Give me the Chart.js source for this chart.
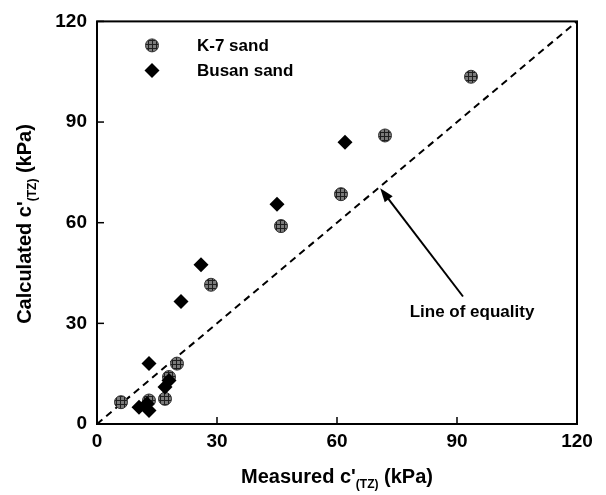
<!DOCTYPE html>
<html><head><meta charset="utf-8">
<script src="https://cdn.jsdelivr.net/npm/chart.js@4"></script>
<style>html,body{margin:0;padding:0;background:#fff}</style>
</head><body>
<canvas id="c" width="606" height="495"></canvas>
<script>
// ---- data ----
const k7Measured   = [6, 13, 17, 18, 20, 28.5, 46, 61, 72, 93.5];
const k7Calculated = [6.5, 7, 7.5, 14, 18, 41.5, 59, 68.5, 86, 103.5];
const busanMeasured   = [10.5, 12.5, 13, 13, 17, 18, 21, 26, 45, 62];
const busanCalculated = [5, 6, 4, 18, 11, 13, 36.5, 47.5, 65.5, 84];
const equalityX = [0, 120];
const equalityY = [0, 120];
const axisTicks = [0, 30, 60, 90, 120];
const arrowTail = {x: 91.5, y: 38};
const arrowTip  = {x: 70.8, y: 70.3};
const seriesNames = ['K-7 sand', 'Busan sand'];

// ---- hatched fill for K-7 markers ----
const pc = document.createElement('canvas');
pc.width = 4; pc.height = 4;
const p = pc.getContext('2d');
p.fillStyle = '#7a7a7a'; p.fillRect(0,0,4,4);
p.fillStyle = '#1e1e1e'; p.fillRect(0,0,4,1); p.fillRect(0,0,1,4);
const hatch = p.createPattern(pc, 'repeat');

const toPts = (xs, ys) => xs.map((x,i)=>({x, y: ys[i]}));

const FONT = '"Liberation Sans", Arial, sans-serif';

function measureParts(ctx, parts, size) {
  let w = 0;
  parts.forEach(pt => {
    ctx.font = 'bold ' + (pt.sub ? Math.round(size*0.62) : size) + 'px ' + FONT;
    w += ctx.measureText(pt.t).width;
  });
  return w;
}
function renderParts(ctx, parts, size, cx, cy) {
  ctx.textBaseline = 'middle';
  ctx.textAlign = 'left';
  const w = measureParts(ctx, parts, size);
  let x = cx - w/2;
  parts.forEach(pt => {
    const s = pt.sub ? Math.round(size*0.62) : size;
    ctx.font = 'bold ' + s + 'px ' + FONT;
    ctx.fillText(pt.t, x, cy + (pt.sub ? size*0.38 : 0));
    x += ctx.measureText(pt.t).width;
  });
}

const decor = {
  id: 'decor',
  afterDraw(chart) {
    const {ctx, chartArea: a, scales: {x, y}} = chart;
    ctx.save();
    ctx.strokeStyle = '#000';
    ctx.lineWidth = 2;
    ctx.strokeRect(a.left, a.top, a.right - a.left, a.bottom - a.top);
    // inward tick marks
    ctx.lineWidth = 1.5;
    axisTicks.forEach(v => {
      const px = x.getPixelForValue(v), py = y.getPixelForValue(v);
      ctx.beginPath(); ctx.moveTo(px, a.bottom); ctx.lineTo(px, a.bottom - 7); ctx.stroke();
      ctx.beginPath(); ctx.moveTo(a.left, py); ctx.lineTo(a.left + 7, py); ctx.stroke();
    });
    // arrow
    const tx = x.getPixelForValue(arrowTail.x), ty = y.getPixelForValue(arrowTail.y);
    const hx = x.getPixelForValue(arrowTip.x), hy = y.getPixelForValue(arrowTip.y);
    const ang = Math.atan2(hy - ty, hx - tx);
    ctx.lineWidth = 2;
    ctx.beginPath(); ctx.moveTo(tx, ty);
    ctx.lineTo(hx - 10*Math.cos(ang), hy - 10*Math.sin(ang)); ctx.stroke();
    ctx.fillStyle = '#000';
    ctx.beginPath();
    ctx.moveTo(hx, hy);
    ctx.lineTo(hx - 14*Math.cos(ang) + 5*Math.sin(ang), hy - 14*Math.sin(ang) - 5*Math.cos(ang));
    ctx.lineTo(hx - 14*Math.cos(ang) - 5*Math.sin(ang), hy - 14*Math.sin(ang) + 5*Math.cos(ang));
    ctx.closePath(); ctx.fill();
    // annotation text
    ctx.font = 'bold 17px ' + FONT;
    ctx.textAlign = 'center'; ctx.textBaseline = 'middle';
    ctx.fillText('Line of equality', tx + 9, ty + 16);
    // legend
    const lx = a.left + 55, ly1 = a.top + 24, ly2 = a.top + 49;
    ctx.beginPath(); ctx.arc(lx, ly1, 6.5, 0, Math.PI*2);
    ctx.fillStyle = hatch; ctx.fill();
    ctx.strokeStyle = '#333'; ctx.lineWidth = 1; ctx.stroke();
    ctx.fillStyle = '#000';
    ctx.beginPath(); ctx.moveTo(lx - 7.5, ly2); ctx.lineTo(lx, ly2 - 7.5); ctx.lineTo(lx + 7.5, ly2); ctx.lineTo(lx, ly2 + 7.5); ctx.closePath(); ctx.fill();
    ctx.font = 'bold 17px ' + FONT;
    ctx.textAlign = 'left';
    ctx.fillText(seriesNames[0], lx + 45, ly1 + 1);
    ctx.fillText(seriesNames[1], lx + 45, ly2 + 1);
    // axis titles
    ctx.fillStyle = '#000';
    renderParts(ctx, [{t:"Measured c'"},{t:'(TZ)',sub:true},{t:' (kPa)'}], 20, (a.left + a.right)/2, 477);
    ctx.save();
    ctx.translate(25, 224);
    ctx.rotate(-Math.PI/2);
    renderParts(ctx, [{t:"Calculated c'"},{t:'(TZ)',sub:true},{t:' (kPa)'}], 20, 0, 0);
    ctx.restore();
    ctx.restore();
  }
};

new Chart(document.getElementById('c'), {
  type: 'scatter',
  data: {
    datasets: [
      {
        label: 'Line of equality',
        type: 'line',
        data: toPts(equalityX, equalityY),
        borderColor: '#000', borderWidth: 2, borderDash: [7, 5],
        pointRadius: 0, fill: false, order: 3
      },
      {
        label: seriesNames[0],
        data: toPts(k7Measured, k7Calculated),
        pointStyle: 'circle', pointRadius: 6.5,
        backgroundColor: hatch, borderColor: '#333', borderWidth: 1, order: 2
      },
      {
        label: seriesNames[1],
        data: toPts(busanMeasured, busanCalculated),
        pointStyle: 'rectRot', pointRadius: 7.5,
        backgroundColor: '#000', borderColor: '#000', borderWidth: 0, order: 1
      }
    ]
  },
  options: {
    responsive: false, animation: false,
    layout: {padding: {top: 18, right: 29, left: 0, bottom: 0}},
    plugins: {legend: {display: false}, tooltip: {enabled: false}},
    scales: {
      x: {
        type: 'linear', min: 0, max: 120,
        afterBuildTicks: s => { s.ticks = axisTicks.map(v => ({value: v})); },
        afterFit: s => { s.height = 71; },
        grid: {display: false, drawTicks: false},
        border: {display: false},
        ticks: {color: '#000', padding: 6, font: {family: FONT, size: 19, weight: 'bold'}}
      },
      y: {
        type: 'linear', min: 0, max: 120,
        afterBuildTicks: s => { s.ticks = axisTicks.map(v => ({value: v})); },
        afterFit: s => { s.width = 97; },
        grid: {display: false, drawTicks: false},
        border: {display: false},
        ticks: {color: '#000', padding: 10, font: {family: FONT, size: 19, weight: 'bold'}}
      }
    }
  },
  plugins: [decor]
});
</script>
</body></html>
